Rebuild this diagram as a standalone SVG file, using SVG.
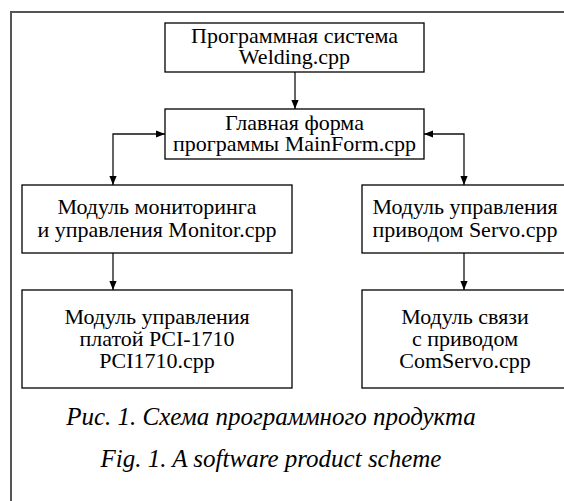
<svg xmlns="http://www.w3.org/2000/svg" width="564" height="501" viewBox="0 0 564 501">
<style>
.box{fill:#fff;stroke:#000;stroke-width:1.3}
.t{font-family:'Liberation Serif','DejaVu Serif','Times New Roman',serif;font-size:22px;fill:#000;text-anchor:middle}
.cap{font-family:'Liberation Serif','DejaVu Serif','Times New Roman',serif;font-size:25px;font-style:italic;fill:#000;text-anchor:middle}
.c{fill:none;stroke:#111;stroke-width:1.3}
</style>
<defs>
<marker id="ah" viewBox="0 0 10 10" refX="10" refY="5" markerWidth="9" markerHeight="9" markerUnits="userSpaceOnUse" orient="auto-start-reverse">
<path d="M0,1 L10,5 L0,9 Z" fill="#000"/>
</marker>
</defs>
<rect width="564" height="501" fill="#fff"/>
<path d="M11,501 V12 H564" fill="none" stroke="#555" stroke-width="2"/>
<g id="connectors">
<path class="c" d="M295,72 V109" marker-end="url(#ah)"/>
<path class="c" d="M113,185 V134 H165" marker-start="url(#ah)" marker-end="url(#ah)"/>
<path class="c" d="M424,134 H464 V185" marker-start="url(#ah)" marker-end="url(#ah)"/>
<path class="c" d="M113,253 V290" marker-end="url(#ah)"/>
<path class="c" d="M464,253 V290" marker-end="url(#ah)"/>
</g>
<g id="welding">
<rect class="box" x="165" y="23" width="259" height="49"/>
<text class="t" x="294.5" y="43">Программная система</text>
<text class="t" x="294.5" y="64">Welding.cpp</text>
</g>
<g id="mainform">
<rect class="box" x="165" y="109" width="259" height="50"/>
<text class="t" x="294.5" y="130">Главная форма</text>
<text class="t" x="294.5" y="151">программы MainForm.cpp</text>
</g>
<g id="monitor">
<rect class="box" x="22" y="185" width="270" height="68"/>
<text class="t" x="157" y="214">Модуль мониторинга</text>
<text class="t" x="157" y="237">и управления Monitor.cpp</text>
</g>
<g id="servo">
<rect class="box" x="362" y="185" width="210" height="68"/>
<text class="t" x="465" y="214">Модуль управления</text>
<text class="t" x="465" y="237">приводом Servo.cpp</text>
</g>
<g id="pci">
<rect class="box" x="22" y="290" width="270" height="98"/>
<text class="t" x="157" y="324">Модуль управления</text>
<text class="t" x="157" y="346">платой PCI-1710</text>
<text class="t" x="157" y="368">PCI1710.cpp</text>
</g>
<g id="comservo">
<rect class="box" x="362" y="290" width="210" height="98"/>
<text class="t" x="465" y="324">Модуль связи</text>
<text class="t" x="465" y="346">с приводом</text>
<text class="t" x="465" y="368">ComServo.cpp</text>
</g>
<text class="cap" x="271" y="425">Рис. 1. Схема программного продукта</text>
<text class="cap" x="271" y="467" font-size="26">Fig. 1. A software product scheme</text>
</svg>
